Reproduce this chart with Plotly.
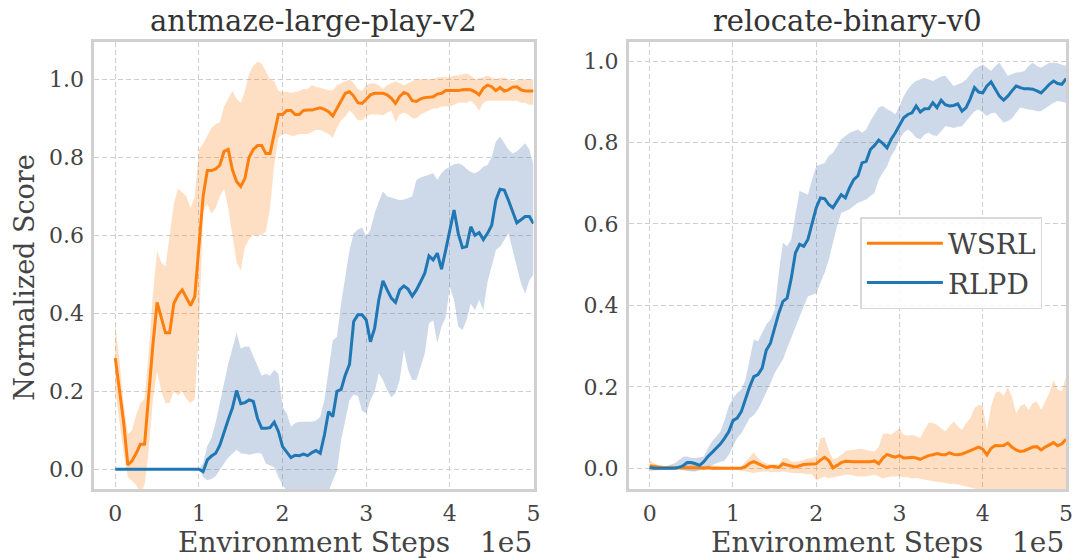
import plotly.graph_objects as go

# evaluation steps (in units of 1e5 environment steps), every 5000 steps
STEPS = [i * 5000 for i in range(101)]
X = [s / 1e5 for s in STEPS]
X_TICKS = [0, 1, 2, 3, 4, 5]
Y_TICKS = [0.0, 0.2, 0.4, 0.6, 0.8, 1.0]

# ---------------- antmaze-large-play-v2 ----------------
ant_wsrl_mean = [
    0.285, 0.20, 0.12, 0.011, 0.022, 0.041, 0.064, 0.064, 0.20, 0.32,
    0.428, 0.39, 0.35, 0.35, 0.425, 0.447, 0.46, 0.44, 0.42, 0.443,
    0.58, 0.70, 0.766, 0.766, 0.77, 0.78, 0.815, 0.82, 0.768, 0.738,
    0.725, 0.746, 0.80, 0.82, 0.83, 0.83, 0.81, 0.81, 0.86, 0.91,
    0.91, 0.92, 0.92, 0.91, 0.91, 0.92, 0.921, 0.921, 0.924, 0.927,
    0.923, 0.917, 0.906, 0.926, 0.947, 0.964, 0.968, 0.957, 0.94, 0.938,
    0.949, 0.96, 0.964, 0.964, 0.964, 0.96, 0.951, 0.938, 0.956, 0.966,
    0.962, 0.945, 0.943, 0.95, 0.953, 0.954, 0.955, 0.962, 0.964, 0.971,
    0.971, 0.97, 0.971, 0.973, 0.974, 0.973, 0.968, 0.96, 0.977, 0.985,
    0.981, 0.971, 0.979, 0.97, 0.973, 0.98, 0.981, 0.973, 0.97, 0.97,
    0.97]
ant_wsrl_upper = [
    0.37, 0.28, 0.17, 0.09, 0.10, 0.14, 0.17, 0.18, 0.30, 0.45,
    0.56, 0.53, 0.52, 0.60, 0.68, 0.72, 0.71, 0.70, 0.67, 0.70,
    0.82, 0.835, 0.855, 0.875, 0.885, 0.89, 0.93, 0.95, 0.97, 0.95,
    0.94, 0.97, 1.015, 1.035, 1.045, 1.04, 1.02, 1.0, 0.995, 0.97,
    0.968, 0.968, 0.965, 0.968, 0.97, 0.975, 0.975, 0.985, 0.98, 0.978,
    0.975, 0.972, 0.972, 0.985, 0.99, 0.995, 1.0, 0.99, 0.975, 0.97,
    0.985, 0.99, 0.99, 0.985, 0.975, 0.985, 0.99, 0.995, 0.99, 0.985,
    0.99, 0.995, 1.0, 1.0, 1.0, 1.0, 1.0, 1.005, 1.005, 1.005,
    1.005, 1.01, 1.01, 1.013, 1.015, 1.01, 1.0, 1.003, 1.005, 1.01,
    1.005, 1.0, 1.003, 1.005, 1.0, 0.995, 0.998, 1.0, 1.0, 1.0,
    1.0]
ant_wsrl_lower = [
    0.20, 0.12, 0.04, -0.02, -0.03, -0.04, -0.06, -0.04, 0.05, 0.18,
    0.25, 0.20, 0.17, 0.17, 0.20, 0.19, 0.20, 0.18, 0.17, 0.18,
    0.35, 0.66, 0.68, 0.655, 0.67, 0.70, 0.72, 0.67, 0.60, 0.53,
    0.51, 0.57, 0.59, 0.60, 0.60, 0.60, 0.61, 0.67, 0.78, 0.85,
    0.86, 0.86, 0.855, 0.855, 0.86, 0.86, 0.86, 0.865, 0.87, 0.87,
    0.865, 0.86, 0.85, 0.875, 0.895, 0.905, 0.92, 0.91, 0.895, 0.895,
    0.905, 0.91, 0.91, 0.91, 0.908, 0.915, 0.92, 0.89, 0.91, 0.915,
    0.91, 0.90, 0.90, 0.91, 0.915, 0.92, 0.925, 0.925, 0.93, 0.93,
    0.93, 0.935, 0.94, 0.94, 0.94, 0.945, 0.935, 0.92, 0.94, 0.945,
    0.945, 0.945, 0.945, 0.945, 0.945, 0.945, 0.945, 0.94, 0.94, 0.935,
    0.935]

ant_rlpd_mean = [0.0] * 20 + [
    0.0, -0.006, 0.024, 0.034, 0.041, 0.062, 0.097, 0.127, 0.157, 0.202,
    0.168, 0.171, 0.178, 0.174, 0.131, 0.105, 0.105, 0.107, 0.121, 0.097,
    0.058, 0.045, 0.03, 0.036, 0.035, 0.039, 0.035, 0.043, 0.048, 0.041,
    0.088, 0.148, 0.135, 0.20, 0.205, 0.242, 0.269, 0.379, 0.396, 0.396,
    0.383, 0.327, 0.361, 0.434, 0.483, 0.46, 0.439, 0.428, 0.46, 0.47,
    0.462, 0.444, 0.46, 0.481, 0.503, 0.547, 0.537, 0.554, 0.513, 0.562,
    0.614, 0.665, 0.605, 0.568, 0.571, 0.622, 0.60, 0.607, 0.589, 0.605,
    0.626, 0.69, 0.718, 0.716, 0.69, 0.66, 0.632, 0.64, 0.648, 0.648,
    0.63]
ant_rlpd_upper = [0.0] * 20 + [
    0.0, 0.015, 0.06, 0.08, 0.12, 0.17, 0.22, 0.27, 0.31, 0.35,
    0.31, 0.315, 0.315, 0.29, 0.265, 0.24, 0.245, 0.24, 0.255, 0.245,
    0.16, 0.144, 0.11, 0.118, 0.122, 0.122, 0.122, 0.122, 0.125, 0.135,
    0.178, 0.25, 0.33, 0.34, 0.426, 0.494, 0.562, 0.605, 0.615, 0.62,
    0.597, 0.614, 0.656, 0.686, 0.712, 0.70, 0.697, 0.695, 0.69, 0.692,
    0.695, 0.70, 0.742, 0.748, 0.752, 0.755, 0.759, 0.742, 0.76, 0.77,
    0.776, 0.782, 0.785, 0.78, 0.77, 0.762, 0.759, 0.765, 0.776, 0.78,
    0.80, 0.84, 0.853, 0.835, 0.82, 0.81, 0.815, 0.825, 0.836, 0.82,
    0.78]
ant_rlpd_lower = [0.0] * 20 + [
    0.0, -0.02, -0.028, -0.025, -0.018, -0.002, 0.015, 0.03, 0.04, 0.05,
    0.041, 0.04, 0.037, 0.04, 0.042, 0.04, 0.015, 0.01, 0.005, -0.02,
    -0.04, -0.055, -0.06, -0.065, -0.07, -0.07, -0.07, -0.07, -0.07, -0.065,
    -0.06, -0.055, -0.03, -0.003, 0.075, 0.126, 0.178, 0.192, 0.188, 0.15,
    0.144, 0.178, 0.199, 0.246, 0.229, 0.203, 0.185, 0.195, 0.229, 0.306,
    0.255, 0.229, 0.229, 0.263, 0.297, 0.374, 0.382, 0.323, 0.366, 0.39,
    0.468, 0.434, 0.366, 0.357, 0.383, 0.425, 0.408, 0.434, 0.408, 0.48,
    0.52, 0.562, 0.571, 0.588, 0.605, 0.562, 0.52, 0.477, 0.45, 0.485,
    0.50]

# ---------------- relocate-binary-v0 ----------------
rel_wsrl_mean = [
    0.006, 0.004, 0.003, 0.002, 0.002, 0.002, 0.001, 0.001, 0.002, 0.002,
    0.002, 0.002, 0.001, 0.0, 0.002, 0.0, 0.0, 0.0, 0.0, 0.0,
    0.0, 0.0, 0.0, 0.004, 0.012, 0.016, 0.011, 0.006, 0.002, 0.004,
    0.004, 0.002, 0.011, 0.008, 0.006, 0.003, 0.006, 0.009, 0.01, 0.01,
    0.011, 0.02, 0.027, 0.019, 0.001, 0.007, 0.014, 0.017, 0.016, 0.016,
    0.016, 0.016, 0.016, 0.016, 0.018, 0.011, 0.025, 0.034, 0.03, 0.027,
    0.031, 0.025, 0.026, 0.027, 0.025, 0.022, 0.027, 0.031, 0.033, 0.036,
    0.034, 0.033, 0.038, 0.034, 0.033, 0.035, 0.039, 0.043, 0.048, 0.052,
    0.047, 0.033, 0.049, 0.056, 0.055, 0.056, 0.062, 0.052, 0.045, 0.041,
    0.043, 0.048, 0.052, 0.053, 0.045, 0.052, 0.057, 0.063, 0.055, 0.06,
    0.071]
rel_wsrl_upper = [
    0.02, 0.012, 0.008, 0.006, 0.005, 0.006, 0.005, 0.005, 0.008, 0.01,
    0.012, 0.01, 0.006, 0.005, 0.007, 0.008, 0.006, 0.004, 0.003, 0.003,
    0.003, 0.002, 0.004, 0.016, 0.029, 0.039, 0.025, 0.016, 0.012, 0.01,
    0.01, 0.009, 0.025, 0.025, 0.016, 0.016, 0.017, 0.02, 0.024, 0.025,
    0.029, 0.074, 0.076, 0.045, 0.022, 0.025, 0.033, 0.041, 0.045, 0.045,
    0.047, 0.047, 0.045, 0.043, 0.041, 0.053, 0.084, 0.086, 0.082, 0.09,
    0.098, 0.082, 0.08, 0.082, 0.078, 0.074, 0.094, 0.112, 0.111, 0.107,
    0.098, 0.09, 0.103, 0.115, 0.103, 0.094, 0.111, 0.123, 0.148, 0.156,
    0.152, 0.094, 0.152, 0.185, 0.189, 0.178, 0.199, 0.176, 0.135, 0.152,
    0.158, 0.143, 0.16, 0.164, 0.143, 0.164, 0.185, 0.217, 0.193, 0.189,
    0.225]
rel_wsrl_lower = [
    -0.008, -0.006, -0.005, -0.004, -0.004, -0.004, -0.004, -0.004, -0.005, -0.006,
    -0.006, -0.006, -0.005, -0.005, -0.004, -0.004, -0.004, -0.004, -0.004, -0.004,
    -0.004, -0.004, -0.005, -0.008, -0.01, -0.012, -0.01, -0.008, -0.008, -0.009,
    -0.01, -0.01, -0.008, -0.01, -0.012, -0.012, -0.012, -0.013, -0.015, -0.015,
    -0.03, -0.025, -0.02, -0.025, -0.022, -0.02, -0.018, -0.016, -0.016, -0.018,
    -0.02, -0.02, -0.02, -0.018, -0.016, -0.02, -0.025, -0.022, -0.02, -0.02,
    -0.02, -0.022, -0.022, -0.025, -0.024, -0.026, -0.028, -0.03, -0.032, -0.033,
    -0.035, -0.036, -0.038, -0.038, -0.04, -0.042, -0.045, -0.048, -0.05, -0.052,
    -0.06, -0.07, -0.065, -0.07, -0.075, -0.07, -0.08, -0.085, -0.08, -0.08,
    -0.08, -0.085, -0.09, -0.09, -0.085, -0.09, -0.095, -0.1, -0.09, -0.09,
    -0.1]

rel_rlpd_mean = [
    0.002, 0.0, 0.0, 0.0, 0.0, 0.0, 0.0, 0.002, 0.006, 0.014,
    0.014, 0.011, 0.007, 0.016, 0.029, 0.039, 0.05, 0.06, 0.074, 0.09,
    0.117, 0.123, 0.139, 0.17, 0.20, 0.225, 0.23, 0.246, 0.29, 0.307,
    0.347, 0.381, 0.41, 0.418, 0.467, 0.529, 0.55, 0.545, 0.562, 0.599,
    0.64, 0.664, 0.662, 0.648, 0.64, 0.656, 0.672, 0.664, 0.689, 0.709,
    0.718, 0.75, 0.754, 0.783, 0.793, 0.806, 0.798, 0.787, 0.808, 0.824,
    0.842, 0.861, 0.869, 0.873, 0.89, 0.875, 0.883, 0.883, 0.898, 0.886,
    0.904, 0.893, 0.89, 0.891, 0.895, 0.877, 0.886, 0.908, 0.935, 0.924,
    0.922, 0.939, 0.949, 0.931, 0.914, 0.904, 0.914, 0.927, 0.939, 0.935,
    0.932, 0.932, 0.931, 0.927, 0.922, 0.932, 0.943, 0.951, 0.945, 0.943,
    0.957]
rel_rlpd_upper = [
    0.003, 0.003, 0.003, 0.003, 0.005, 0.008, 0.012, 0.02, 0.028, 0.029,
    0.026, 0.025, 0.027, 0.029, 0.05, 0.066, 0.078, 0.09, 0.119, 0.152,
    0.172, 0.185, 0.193, 0.217, 0.267, 0.316, 0.312, 0.332, 0.353, 0.365,
    0.388, 0.48, 0.554, 0.545, 0.562, 0.623, 0.681, 0.677, 0.672, 0.709,
    0.742, 0.746, 0.75, 0.767, 0.775, 0.791, 0.808, 0.816, 0.824, 0.828,
    0.832, 0.824, 0.832, 0.853, 0.869, 0.886, 0.89, 0.882, 0.877, 0.869,
    0.89, 0.914, 0.931, 0.943, 0.951, 0.955, 0.959, 0.955, 0.951, 0.957,
    0.962, 0.964, 0.951, 0.939, 0.943, 0.947, 0.955, 0.968, 0.98, 0.986,
    0.992, 0.984, 0.976, 0.988, 0.996, 0.98, 0.964, 0.968, 0.972, 0.973,
    0.976, 0.988, 0.996, 0.988, 0.984, 0.99, 0.996, 0.996, 0.995, 0.991,
    0.988]
rel_rlpd_lower = [
    -0.003, -0.003, -0.003, -0.003, -0.004, -0.004, -0.004, -0.003, -0.004, -0.006,
    -0.008, -0.008, -0.004, 0.0, 0.004, 0.008, 0.012, 0.016, 0.019, 0.033,
    0.053, 0.074, 0.086, 0.103, 0.123, 0.131, 0.144, 0.164, 0.185, 0.209,
    0.234, 0.25, 0.267, 0.295, 0.324, 0.349, 0.373, 0.398, 0.422, 0.426,
    0.43, 0.455, 0.48, 0.512, 0.554, 0.595, 0.627, 0.631, 0.636, 0.644,
    0.652, 0.656, 0.66, 0.668, 0.677, 0.709, 0.726, 0.742, 0.767, 0.783,
    0.808, 0.824, 0.832, 0.824, 0.812, 0.808, 0.82, 0.824, 0.818, 0.816,
    0.828, 0.84, 0.839, 0.836, 0.839, 0.84, 0.853, 0.865, 0.877, 0.881,
    0.873, 0.865, 0.872, 0.873, 0.861, 0.849, 0.853, 0.859, 0.873, 0.886,
    0.883, 0.881, 0.88, 0.877, 0.877, 0.886, 0.891, 0.898, 0.902, 0.90,
    0.898]

METHODS = ["WSRL", "RLPD"]
LINE_COLORS = {"WSRL": "#ff7f0e", "RLPD": "#1f77b4"}
BAND_COLORS = {"WSRL": "rgba(255,127,14,0.25)", "RLPD": "rgba(76,114,176,0.28)"}

PANELS = [
    {"title": "antmaze-large-play-v2", "xa": "x", "ya": "y",
     "data": {"WSRL": (ant_wsrl_mean, ant_wsrl_lower, ant_wsrl_upper),
              "RLPD": (ant_rlpd_mean, ant_rlpd_lower, ant_rlpd_upper)},
     "yrange": [-0.0505, 1.0956], "legend": False},
    {"title": "relocate-binary-v0", "xa": "x2", "ya": "y2",
     "data": {"WSRL": (rel_wsrl_mean, rel_wsrl_lower, rel_wsrl_upper),
              "RLPD": (rel_rlpd_mean, rel_rlpd_lower, rel_rlpd_upper)},
     "yrange": [-0.051, 1.047], "legend": True},
]

W, H = 1081, 558
FONT = "DejaVu Serif"
TEXT = "#444444"

fig = go.Figure()
for p in PANELS:
    for m in METHODS:
        mean, lo, hi = p["data"][m]
        fig.add_trace(go.Scatter(
            x=X + X[::-1], y=hi + lo[::-1], xaxis=p["xa"], yaxis=p["ya"],
            fill="toself", fillcolor=BAND_COLORS[m], line=dict(width=0),
            mode="lines", hoverinfo="skip", showlegend=False))
    for m in METHODS:
        mean, lo, hi = p["data"][m]
        fig.add_trace(go.Scatter(
            x=X, y=mean, xaxis=p["xa"], yaxis=p["ya"], mode="lines", name=m,
            line=dict(color=LINE_COLORS[m], width=3),
            showlegend=p["legend"]))

def px_x(v):
    return v / W

def px_y(v):
    return 1 - v / H

common = dict(showgrid=True, gridcolor="#cfcfcf", griddash="5px,3px", gridwidth=1,
              zeroline=False, showline=True, mirror=True, linecolor="#d0d0d0",
              linewidth=3, ticks="outside", ticklen=3, tickcolor="rgba(0,0,0,0)",
              tickfont=dict(family=FONT, size=22, color=TEXT))
xcommon = dict(common, range=[-0.25, 5.0], tickvals=X_TICKS,
               ticktext=[str(t) for t in X_TICKS])
ycommon = dict(common, tickvals=Y_TICKS, ticktext=[f"{t:.1f}" for t in Y_TICKS])

ydom = [px_y(489), px_y(42)]
fig.update_layout(
    width=W, height=H, autosize=False,
    margin=dict(l=0, r=0, t=0, b=0),
    paper_bgcolor="white", plot_bgcolor="white",
    xaxis=dict(xcommon, domain=[px_x(95), px_x(537)], anchor="y"),
    yaxis=dict(ycommon, domain=ydom, anchor="x", range=PANELS[0]["yrange"]),
    xaxis2=dict(xcommon, domain=[px_x(633), px_x(1073)], anchor="y2"),
    yaxis2=dict(ycommon, domain=ydom, anchor="x2", range=PANELS[1]["yrange"]),
    legend=dict(x=px_x(866), y=px_y(217), xanchor="left", yanchor="top",
                bgcolor="rgba(255,255,255,0.85)", bordercolor="#d9d9d9",
                borderwidth=1.5, itemwidth=76,
                font=dict(family=FONT, size=28, color=TEXT)),
    showlegend=True,
)

annots = []
centers = [(95 + 537) / 2, (633 + 1073) / 2]
rights = [537, 1073]
for p, cx, rx in zip(PANELS, centers, rights):
    annots.append(dict(text=p["title"], x=px_x(cx), y=px_y(21), xref="paper", yref="paper",
                       xanchor="center", yanchor="middle", showarrow=False,
                       font=dict(family=FONT, size=29, color="#333333")))
    annots.append(dict(text="Environment Steps", x=px_x(cx), y=px_y(542), xref="paper",
                       yref="paper", xanchor="center", yanchor="middle", showarrow=False,
                       font=dict(family=FONT, size=28, color=TEXT)))
    annots.append(dict(text="1e5", x=px_x(rx), y=px_y(542), xref="paper", yref="paper",
                       xanchor="right", yanchor="middle", showarrow=False,
                       font=dict(family=FONT, size=28, color=TEXT)))
annots.append(dict(text="Normalized Score", x=px_x(24), y=px_y(277), xref="paper",
                   yref="paper", xanchor="center", yanchor="middle", showarrow=False,
                   textangle=-90, font=dict(family=FONT, size=27, color=TEXT)))
fig.update_layout(annotations=annots)

fig.write_html("out.html",
               config={"displayModeBar": False},
               post_script="document.body.style.margin='0';"
                           "document.body.style.overflow='hidden';")
